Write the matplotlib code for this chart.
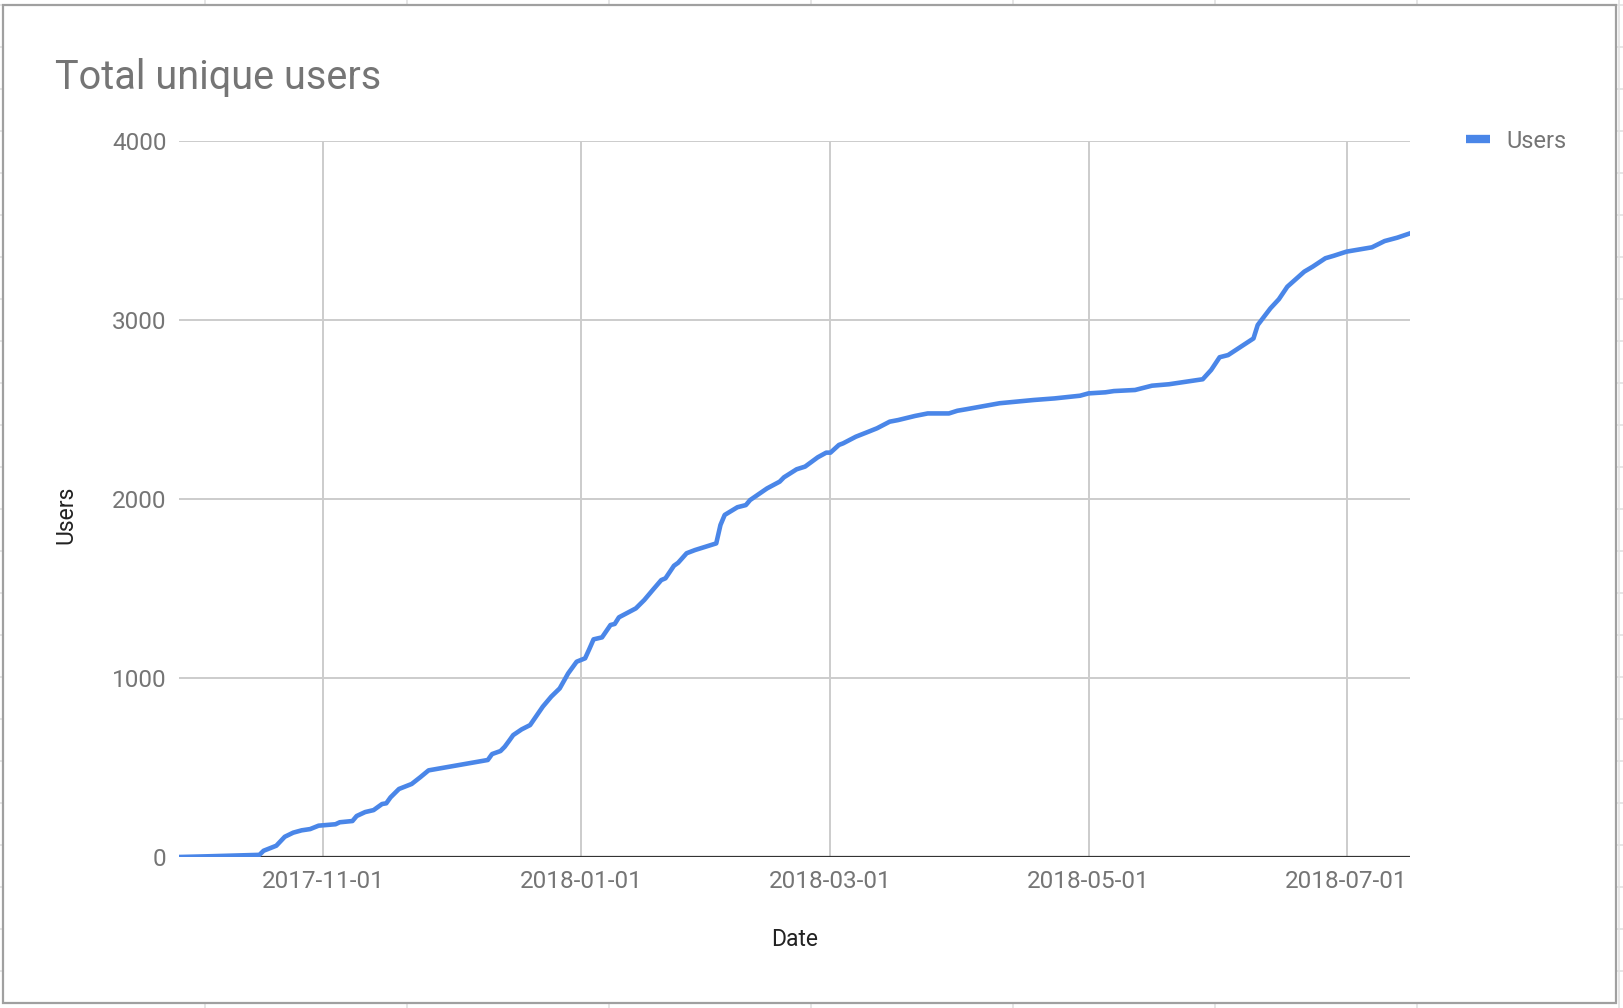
#!/usr/bin/env python3
"""Total unique users over time (Google Sheets style line chart)."""

import matplotlib
matplotlib.use("Agg")
import matplotlib.pyplot as plt
import matplotlib.dates as mdates
from matplotlib.lines import Line2D
from matplotlib.patches import Rectangle
import numpy as np

plt.rcParams['font.family'] = ['Roboto', 'DejaVu Sans']

dates = [
    "2017-09-28", "2017-10-05", "2017-10-17", "2017-10-18", "2017-10-21",
    "2017-10-23", "2017-10-25", "2017-10-27", "2017-10-29", "2017-10-31",
    "2017-11-04", "2017-11-05", "2017-11-08", "2017-11-09", "2017-11-11",
    "2017-11-13", "2017-11-15", "2017-11-16", "2017-11-17", "2017-11-19",
    "2017-11-22", "2017-11-24", "2017-11-26", "2017-12-10", "2017-12-11",
    "2017-12-13", "2017-12-14", "2017-12-15", "2017-12-16", "2017-12-18",
    "2017-12-20", "2017-12-23", "2017-12-25", "2017-12-27", "2017-12-29",
    "2017-12-31", "2018-01-02", "2018-01-03", "2018-01-04", "2018-01-06",
    "2018-01-08", "2018-01-09", "2018-01-10", "2018-01-14", "2018-01-16",
    "2018-01-18", "2018-01-20", "2018-01-21", "2018-01-23", "2018-01-24",
    "2018-01-26", "2018-01-28", "2018-02-02", "2018-02-03", "2018-02-04",
    "2018-02-07", "2018-02-09", "2018-02-10", "2018-02-14", "2018-02-17",
    "2018-02-18", "2018-02-21", "2018-02-23", "2018-02-26", "2018-02-28",
    "2018-03-01", "2018-03-03", "2018-03-04", "2018-03-07", "2018-03-10",
    "2018-03-12", "2018-03-15", "2018-03-17", "2018-03-21", "2018-03-24",
    "2018-03-29", "2018-03-31", "2018-04-02", "2018-04-10", "2018-04-18",
    "2018-04-23", "2018-04-29", "2018-05-01", "2018-05-05", "2018-05-07",
    "2018-05-12", "2018-05-16", "2018-05-20", "2018-05-24", "2018-05-28",
    "2018-05-30", "2018-06-01", "2018-06-03", "2018-06-09", "2018-06-10",
    "2018-06-13", "2018-06-15", "2018-06-17", "2018-06-21", "2018-06-23",
    "2018-06-26", "2018-06-28", "2018-07-01", "2018-07-07", "2018-07-10",
    "2018-07-13", "2018-07-16",
]
users = [
    0, 4, 12, 35, 63,
    113, 136, 149, 156, 175,
    183, 194, 201, 229, 251,
    262, 296, 300, 333, 380,
    408, 445, 484, 542, 575,
    592, 616, 648, 681, 713,
    737, 840, 896, 942, 1026,
    1091, 1110, 1162, 1216, 1227,
    1296, 1302, 1339, 1389, 1436,
    1492, 1547, 1557, 1627, 1644,
    1697, 1715, 1752, 1855, 1911,
    1954, 1966, 1994, 2059, 2097,
    2121, 2166, 2181, 2233, 2259,
    2259, 2302, 2311, 2348, 2376,
    2395, 2432, 2441, 2464, 2478,
    2478, 2493, 2501, 2535, 2553,
    2562, 2577, 2590, 2596, 2603,
    2609, 2633, 2641, 2655, 2669,
    2721, 2792, 2804, 2897, 2972,
    3065, 3116, 3186, 3270, 3298,
    3345, 3359, 3382, 3406, 3441,
    3460, 3484,
]
x_ticks = ["2017-11-01", "2018-01-01", "2018-03-01", "2018-05-01", "2018-07-01"]
y_ticks = [0, 1000, 2000, 3000, 4000]

W, H = 1624, 1008
blue = '#4a86e8'

fig = plt.figure(figsize=(W / 100, H / 100), dpi=100)
fig.patch.set_facecolor('white')

# spreadsheet cells peeking out around the chart
for k in range(0, 25):
    y = 1 - (5 + 42 * k) / H
    fig.add_artist(Line2D([0, 1], [y, y], transform=fig.transFigure,
                          color='#e2e2e2', lw=1.2, zorder=-3))
for k in range(0, 8):
    x = (205 + 202 * k) / W
    fig.add_artist(Line2D([x, x], [0, 1], transform=fig.transFigure,
                          color='#e2e2e2', lw=1.2, zorder=-3))

# chart card
card = Rectangle((3 / W, 1 - 1003 / H), (1616 - 3) / W, (1003 - 5) / H,
                 transform=fig.transFigure, facecolor='white',
                 edgecolor='#a0a0a0', lw=1.6, zorder=-2)
fig.add_artist(card)

ax = fig.add_axes([179 / W, 1 - 857 / H, (1410 - 179) / W, (857 - 141) / H])
ax.set_facecolor('none')

x = np.array(dates, dtype='datetime64[D]')
ax.plot(x, users, color=blue, lw=3.3, solid_joinstyle='round', zorder=3)

ax.set_xlim(np.datetime64("2017-09-28"), np.datetime64("2018-07-16"))
ax.set_ylim(0, 4000)
ax.set_xticks(np.array(x_ticks, dtype='datetime64[D]'))
ax.xaxis.set_major_formatter(mdates.DateFormatter('%Y-%m-%d'))
ax.set_yticks(y_ticks)

ax.grid(True, color='#cccccc', lw=1.4)
ax.set_axisbelow(True)
ax.axhline(0, color='#333333', lw=1.6, zorder=2)
for s in ax.spines.values():
    s.set_visible(False)
ax.tick_params(length=0, labelsize=17.5, labelcolor='#757575')
ax.tick_params(axis='y', pad=9)
ax.tick_params(axis='x', pad=9)

fig.text(55 / W, 1 - 89 / H, 'Total unique users', fontsize=28.5,
         color='#757575', ha='left', va='baseline')
fig.text(795 / W, 1 - 939 / H, 'Date', fontsize=16.5, color='#222222',
         ha='center', va='center')
fig.text(66 / W, 1 - 515 / H, 'Users', fontsize=16.5, color='#222222',
         ha='center', va='center', rotation=90)

handle = Line2D([], [], color=blue, lw=6, solid_capstyle='butt')
ax.legend([handle], ['Users'], loc='center left',
          bbox_to_anchor=(1466 / W, 1 - 141 / H), bbox_transform=fig.transFigure,
          frameon=False, fontsize=17, labelcolor='#757575',
          handlelength=1.0, handletextpad=0.7, borderpad=0, borderaxespad=0)

fig.savefig('out.png', dpi=100)
